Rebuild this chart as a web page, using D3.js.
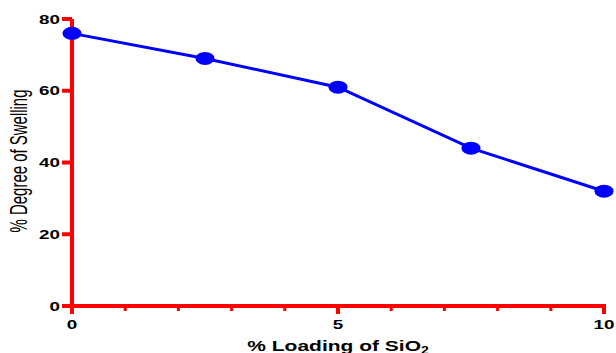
<!DOCTYPE html>
<html><head><meta charset="utf-8">
<script src="https://cdn.jsdelivr.net/npm/d3@7"></script>
<style>html,body{margin:0;padding:0;background:#fff;}svg{display:block;}</style>
</head><body>
<script>
const loading = [0, 2.5, 5, 7.5, 10];
const swelling = [76, 69, 61, 44, 32];
const xTicks = [0, 5, 10];
const xMinorTicks = [1, 2, 3, 4, 6, 7, 8, 9];
const yTicks = [0, 20, 40, 60, 80];
const xTitle = "% Loading of SiO";
const xTitleSub = "2";
const yTitle = "% Degree of Swelling";

const W = 616, H = 353, SX = 1.45;
const svg = d3.select("body").append("svg").attr("width", W).attr("height", H);
const x = d3.scaleLinear().domain([0, 10]).range([72, 604]);
const y = d3.scaleLinear().domain([0, 80]).range([306, 19]);
const red = "#ff0000", blue = "#0000ff";
const font = "'Liberation Sans', Arial, sans-serif";

// axes lines
svg.append("line").attr("x1", x(0)).attr("x2", x(0)).attr("y1", y(80)).attr("y2", y(0) + 8)
  .attr("stroke", red).attr("stroke-width", 4);
svg.append("line").attr("x1", x(0) - 10).attr("x2", x(10) + 2).attr("y1", y(0)).attr("y2", y(0))
  .attr("stroke", red).attr("stroke-width", 4);
// y ticks
svg.selectAll(".yt").data(yTicks).enter().append("line")
  .attr("x1", x(0) - 10).attr("x2", x(0)).attr("y1", d => y(d)).attr("y2", d => y(d))
  .attr("stroke", red).attr("stroke-width", 4);
// x major ticks
svg.selectAll(".xt").data(xTicks).enter().append("line")
  .attr("x1", d => x(d)).attr("x2", d => x(d)).attr("y1", y(0)).attr("y2", y(0) + 8)
  .attr("stroke", red).attr("stroke-width", 4);
// x minor ticks
svg.selectAll(".xmt").data(xMinorTicks).enter().append("line")
  .attr("x1", d => x(d)).attr("x2", d => x(d)).attr("y1", y(0)).attr("y2", y(0) + 5)
  .attr("stroke", red).attr("stroke-width", 3);

// tick labels
svg.selectAll(".ytl").data(yTicks).enter().append("text")
  .attr("transform", d => `translate(${x(0) - 12},${y(d) + 4.5}) scale(${SX},1)`)
  .attr("text-anchor", "end").attr("font-family", font).attr("font-weight", "bold")
  .attr("font-size", 13).attr("fill", "#000").text(d => d);
svg.selectAll(".xtl").data(xTicks).enter().append("text")
  .attr("transform", d => `translate(${x(d)},${329}) scale(${SX},1)`)
  .attr("text-anchor", "middle").attr("font-family", font).attr("font-weight", "bold")
  .attr("font-size", 13).attr("fill", "#000").text(d => d);

// titles
const xt = svg.append("text")
  .attr("transform", `translate(${x(5)},351) scale(1.4,1)`)
  .attr("text-anchor", "middle").attr("font-family", font).attr("font-weight", "bold")
  .attr("font-size", 15).attr("fill", "#000");
xt.append("tspan").text(xTitle);
xt.append("tspan").attr("font-size", 10).attr("dy", 3).text(xTitleSub);

svg.append("text")
  .attr("transform", `translate(27,161) scale(${SX},1) rotate(-90)`)
  .attr("text-anchor", "middle").attr("font-family", font)
  .attr("font-size", 16).attr("textLength", 143).attr("lengthAdjust", "spacingAndGlyphs")
  .attr("fill", "#000").text(yTitle);

// line
const data = loading.map((v, i) => ({x: v, y: swelling[i]}));
svg.append("path").datum(data)
  .attr("d", d3.line().x(d => x(d.x)).y(d => y(d.y)))
  .attr("fill", "none").attr("stroke", blue).attr("stroke-width", 3);
svg.selectAll(".pt").data(data).enter().append("ellipse")
  .attr("cx", d => x(d.x)).attr("cy", d => y(d.y)).attr("rx", 9.5).attr("ry", 6.5)
  .attr("fill", blue);
</script>
</body></html>
